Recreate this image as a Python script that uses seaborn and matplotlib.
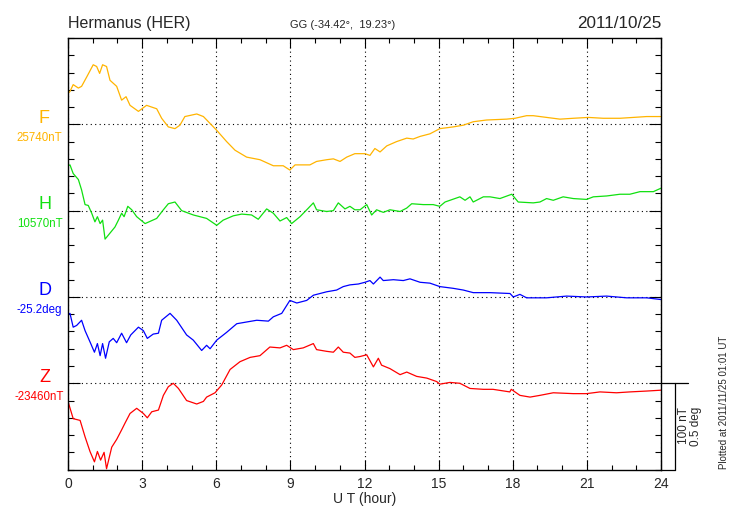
import numpy as np
import pandas as pd
import matplotlib
matplotlib.use('Agg')
import matplotlib.pyplot as plt
import matplotlib.transforms as mtransforms
from matplotlib.ticker import MultipleLocator, FixedLocator, NullFormatter
import seaborn as sns

# ---------------- data ----------------
F_hour = [0, 0.08, 0.21, 0.42, 0.55, 0.76, 1.02, 1.16, 1.28, 1.40, 1.56, 1.70, 1.97,
          2.17, 2.35, 2.51, 2.85, 3.18, 3.59, 3.79, 4.06, 4.33, 4.53, 4.73, 5.21, 5.48,
          6.02, 6.42, 6.76, 7.23, 7.77, 8.31, 8.71, 8.98, 9.19, 9.79, 10.06, 10.47, 10.74,
          11.01, 11.28, 11.61, 12.02, 12.22, 12.42, 12.63, 12.90, 13.30, 13.71, 13.97,
          14.25, 14.65, 15.05, 15.59, 16.00, 16.40, 16.94, 17.75, 18.09, 18.56, 18.83,
          19.37, 19.91, 20.45, 21.06, 21.66, 22.34, 22.88, 23.42, 24.0]
F_nT = [25776, 25778, 25786, 25782, 25784, 25795, 25809, 25807, 25799, 25809,
        25807, 25791, 25784, 25768, 25772, 25762, 25755, 25762, 25758, 25747,
        25737, 25735, 25739, 25749, 25752, 25749, 25733, 25720, 25710, 25702,
        25699, 25692, 25692, 25687, 25693, 25693, 25697, 25699, 25700, 25697,
        25702, 25706, 25706, 25704, 25712, 25708, 25715, 25720, 25724, 25723,
        25726, 25729, 25735, 25737, 25739, 25743, 25745, 25746, 25747, 25750,
        25750, 25748, 25746, 25747, 25748, 25747, 25747, 25748, 25749, 25749]

H_hour = [0, 0.08, 0.21, 0.42, 0.55, 0.69, 0.82, 0.96, 1.09, 1.19, 1.30, 1.40, 1.50,
          1.70, 1.90, 2.04, 2.17, 2.27, 2.42, 2.58, 2.78, 3.12, 3.59, 3.86, 4.06, 4.33,
          4.60, 5.07, 5.61, 6.02, 6.28, 6.69, 7.03, 7.43, 7.70, 8.04, 8.31, 8.58, 8.85,
          9.05, 9.39, 9.73, 9.93, 10.06, 10.47, 10.74, 10.94, 11.21, 11.41, 11.61, 11.82,
          12.09, 12.29, 12.49, 12.76, 13.03, 13.44, 13.71, 13.91, 14.38, 14.78, 15.05,
          15.26, 15.86, 16.07, 16.27, 16.40, 16.81, 17.08, 17.48, 17.96, 18.22, 18.83,
          19.10, 19.37, 19.64, 20.04, 20.45, 20.99, 21.26, 21.80, 22.34, 22.74, 23.15,
          23.69, 24.0]
H_nT = [10622, 10623, 10613, 10606, 10594, 10577, 10576, 10567, 10557, 10563,
        10555, 10559, 10537, 10544, 10551, 10559, 10567, 10563, 10575, 10571,
        10563, 10555, 10561, 10571, 10578, 10580, 10570, 10565, 10561, 10553,
        10559, 10564, 10566, 10565, 10560, 10572, 10567, 10558, 10562, 10555,
        10563, 10573, 10579, 10571, 10569, 10570, 10579, 10572, 10575, 10571,
        10571, 10577, 10565, 10571, 10568, 10571, 10569, 10573, 10578, 10577,
        10577, 10575, 10580, 10586, 10582, 10586, 10580, 10586, 10586, 10584,
        10589, 10580, 10579, 10580, 10584, 10582, 10586, 10584, 10583, 10586,
        10587, 10589, 10589, 10592, 10592, 10596]

D_hour = [0, 0.08, 0.21, 0.35, 0.55, 0.69, 0.89, 1.07, 1.19, 1.30, 1.40, 1.52, 1.67,
          1.83, 1.97, 2.17, 2.37, 2.54, 2.85, 3.05, 3.21, 3.45, 3.66, 3.79, 4.13, 4.40,
          4.80, 5.07, 5.41, 5.61, 5.75, 6.02, 6.42, 6.83, 7.23, 7.64, 8.11, 8.31, 8.65,
          8.98, 9.26, 9.66, 9.93, 10.47, 10.87, 11.14, 11.41, 11.75, 12.02, 12.22, 12.36,
          12.63, 12.76, 13.17, 13.57, 13.84, 14.25, 14.65, 15.05, 15.59, 16.00, 16.40,
          17.08, 17.89, 18.02, 18.29, 18.56, 19.37, 20.18, 20.99, 21.80, 22.61, 23.42, 24.0]
D_deg = [-25.300, -25.295, -25.375, -25.365, -25.335, -25.395, -25.460, -25.520,
         -25.470, -25.540, -25.470, -25.555, -25.460, -25.440, -25.465, -25.410,
         -25.465, -25.420, -25.375, -25.395, -25.440, -25.415, -25.410, -25.335,
         -25.295, -25.335, -25.420, -25.450, -25.510, -25.480, -25.500, -25.450,
         -25.405, -25.355, -25.345, -25.335, -25.340, -25.315, -25.295, -25.220,
         -25.235, -25.220, -25.190, -25.170, -25.160, -25.140, -25.130, -25.125,
         -25.115, -25.105, -25.125, -25.085, -25.105, -25.100, -25.105, -25.095,
         -25.115, -25.120, -25.140, -25.150, -25.160, -25.175, -25.175, -25.180,
         -25.200, -25.185, -25.205, -25.205, -25.195, -25.200, -25.195, -25.205,
         -25.205, -25.215]

Z_hour = [0, 0.21, 0.49, 0.69, 0.89, 1.07, 1.19, 1.32, 1.46, 1.56, 1.77, 1.97, 2.17,
          2.31, 2.51, 2.78, 3.05, 3.21, 3.39, 3.66, 3.86, 4.06, 4.26, 4.47, 4.80, 5.21,
          5.48, 5.61, 5.95, 6.22, 6.56, 6.96, 7.37, 7.77, 8.17, 8.58, 8.85, 9.12, 9.52,
          9.93, 10.06, 10.47, 10.74, 10.94, 11.14, 11.41, 11.61, 11.82, 12.09, 12.36,
          12.56, 12.69, 13.03, 13.44, 13.71, 14.11, 14.52, 14.92, 15.05, 15.46, 15.86,
          16.27, 16.81, 17.20, 17.88, 17.94, 18.29, 18.70, 19.10, 19.64, 20.45, 20.99,
          21.53, 22.20, 22.74, 23.42, 24.0]
Z_nT = [-23481, -23501, -23503, -23522, -23539, -23551, -23539, -23549, -23540, -23559,
        -23534, -23525, -23514, -23506, -23495, -23489, -23495, -23500, -23493, -23491,
        -23474, -23464, -23460, -23466, -23480, -23484, -23481, -23476, -23471, -23462,
        -23444, -23435, -23430, -23428, -23418, -23419, -23416, -23421, -23419, -23414,
        -23421, -23423, -23424, -23418, -23424, -23425, -23430, -23429, -23427, -23441,
        -23431, -23439, -23443, -23450, -23447, -23452, -23454, -23458, -23461, -23459,
        -23460, -23466, -23467, -23467, -23470, -23467, -23474, -23476, -23474, -23471,
        -23472, -23472, -23470, -23471, -23470, -23469, -23468]

components = ['F', 'H', 'D', 'Z']
base_labels = ['25740nT', '10570nT', '-25.2deg', '-23460nT']
base_values = [25740, 10570, -25.2, -23460]
per_division = [100, 100, 0.5, 100]      # one panel division (100 nT / 0.5 deg)
row_level = [400, 300, 200, 100]          # baseline level of each trace on the stacked axis
colors = {'F': '#FFB400', 'H': '#10E010', 'D': '#0000FF', 'Z': '#FF0000'}
x_ticks = [0, 3, 6, 9, 12, 15, 18, 21, 24]

series = {'F': (F_hour, F_nT), 'H': (H_hour, H_nT), 'D': (D_hour, D_deg), 'Z': (Z_hour, Z_nT)}
frames = []
for c, b, d, lvl in zip(components, base_values, per_division, row_level):
    t, v = series[c]
    v = np.asarray(v, dtype=float)
    frames.append(pd.DataFrame({'hour': t, 'level': lvl + (v - b) * 100.0 / d, 'comp': c}))
df = pd.concat(frames, ignore_index=True)

# ---------------- figure ----------------
sns.set_style('ticks')
plt.rcParams['font.family'] = ['Liberation Sans', 'DejaVu Sans']

W, Hp = 730, 520
fig = plt.figure(figsize=(7.3, 5.2), dpi=100)
fx = lambda px: px / W
fy = lambda py: 1 - py / Hp
L, R, T, B = 68, 661, 38, 469.6
ax = fig.add_axes([fx(L), fy(B), fx(R) - fx(L), fy(T) - fy(B)])

sns.lineplot(data=df, x='hour', y='level', hue='comp', palette=colors,
             estimator=None, sort=False, legend=False, linewidth=0.9, ax=ax)

ax.set_xlim(0, 24)
ax.set_ylim(0, 500)
ax.xaxis.set_major_locator(FixedLocator(x_ticks))
ax.xaxis.set_minor_locator(MultipleLocator(1))
ax.set_xticklabels([str(v) for v in x_ticks])
ax.yaxis.set_major_locator(FixedLocator(row_level))
ax.yaxis.set_minor_locator(MultipleLocator(20))
ax.yaxis.set_major_formatter(NullFormatter())
ax.set_ylabel('')
ax.set_xlabel('U T (hour)', fontsize=10, labelpad=1)

ax.tick_params(axis='both', which='both', direction='in', top=True, right=True,
               color='black', width=0.8)
ax.tick_params(axis='x', which='major', length=7, labelsize=10, pad=5)
ax.tick_params(axis='x', which='minor', length=3.6)
ax.tick_params(axis='y', which='major', length=8.6)
ax.tick_params(axis='y', which='minor', length=4.3)
for s in ax.spines.values():
    s.set_color('black')
    s.set_linewidth(1.0)

ax.grid(True, which='major', color='black', linestyle=(0, (1, 3)), linewidth=0.8)

# scale bar right of the panel (100 nT / 0.5 deg)
trans = mtransforms.blended_transform_factory(ax.transAxes, ax.transData)
axw = R - L
xb = 1 + (675 - R) / axw
xe = 1 + (688 - R) / axw
ax.plot([1, xe], [100, 100], transform=trans, clip_on=False, color='black', lw=0.9)
ax.plot([xb, xb], [0, 100], transform=trans, clip_on=False, color='black', lw=0.9)
ax.plot([1, xb], [0, 0], transform=trans, clip_on=False, color='black', lw=0.9)

# header
fig.text(fx(L), fy(28), 'Hermanus (HER)', fontsize=11.5, ha='left', va='baseline')
fig.text(fx(R), fy(28), '2011/10/25', fontsize=12.3, ha='right', va='baseline')
fig.text(fx(343), fy(27.5), 'GG (-34.42°,  19.23°)', fontsize=8, ha='center', va='baseline')

# component labels
base_px = [124.3, 210.7, 296.7, 383.3]
for c, lab, by in zip(components, base_labels, base_px):
    fig.text(fx(44.5), fy(by - 6), c, fontsize=13, color=colors[c], ha='center', va='center')
    fig.text(fx(39.5), fy(by + 13.5), lab, fontsize=8.3, color=colors[c], ha='center', va='center')

fig.text(fx(690), fy(426), '100 nT\n0.5 deg', fontsize=8.5, rotation=90,
         ha='center', va='center', linespacing=0.95)
fig.text(fx(724), fy(469), 'Plotted at 2011/11/25 01:01 UT', fontsize=7.0, rotation=90,
         ha='center', va='bottom')

fig.savefig('out.png', dpi=100)
